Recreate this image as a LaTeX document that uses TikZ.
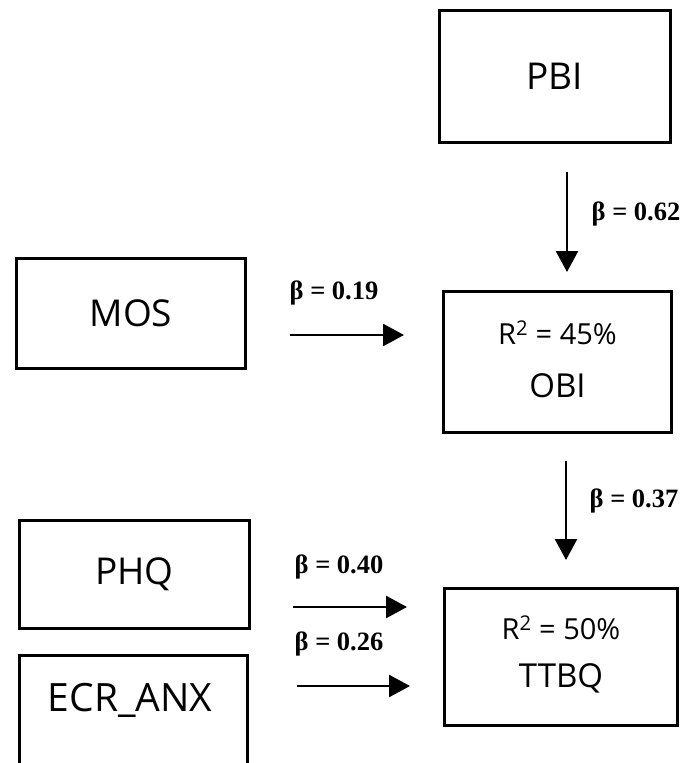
\documentclass[tikz,border=0pt]{standalone}
\usepackage{fontspec}
\setmainfont{Open Sans}
\newfontfamily\lblfont{Liberation Serif}
\usetikzlibrary{arrows.meta}
\begin{document}
\begin{tikzpicture}[x=1pt,y=-1pt,
  box/.style={draw,line width=3pt,rectangle,inner sep=0pt,align=center},
  big/.style={font=\fontsize{37}{40}\selectfont},
  arr/.style={line width=2.6pt,-{Triangle[length=21pt,width=22pt]}},
  beta/.style={font=\lblfont\bfseries\fontsize{26.5}{28}\selectfont,inner sep=0pt}]
\path[use as bounding box] (0,0) rectangle (690,763);
\clip (0,0) rectangle (690,763);
\node[box,big,minimum width=231pt,minimum height=132pt] (PBI) at (555,76.5) {PBI};
\node[box,big,minimum width=229pt,minimum height=110pt] (MOS) at (131,313.5) {MOS};
\node[box,minimum width=228pt,minimum height=141pt] (OBI) at (557.5,362) {};
\node[font=\fontsize{29}{31}\selectfont] (OBIr) at (557.5,333) {R\textsuperscript{2} = 45\%};
\node[font=\fontsize{33}{35}\selectfont] (OBIt) at (557.5,386) {OBI};
\node[box,big,minimum width=230pt,minimum height=108pt] (PHQ) at (134.5,574.5) {PHQ};
\node[box,minimum width=228pt,minimum height=109pt] (ECR) at (133.5,710) {};
\node[font=\fontsize{39}{41}\selectfont] (ECRt) at (130,700) {ECR\_ANX};
\node[box,minimum width=233pt,minimum height=137pt] (TTBQ) at (561,657) {};
\node[font=\fontsize{29}{31}\selectfont] (TTBQr) at (561,628) {R\textsuperscript{2} = 50\%};
\node[font=\fontsize{33}{35}\selectfont] (TTBQt) at (561,678) {TTBQ};
% arrow end points
\coordinate (a1s) at (567,172); \coordinate (a1e) at (567,272);
\coordinate (a2s) at (566,461); \coordinate (a2e) at (566,560);
\coordinate (a3s) at (290,335); \coordinate (a3e) at (404,335);
\coordinate (a4s) at (293,607); \coordinate (a4e) at (407,607);
\coordinate (a5s) at (297,686); \coordinate (a5e) at (410,686);
\draw[arr] (a1s) -- (a1e);
\draw[arr] (a2s) -- (a2e);
\draw[arr] (a3s) -- (a3e);
\draw[arr] (a4s) -- (a4e);
\draw[arr] (a5s) -- (a5e);
\node[beta] (b1) at (636,214) {β = 0.62};
\node[beta] (b2) at (634,501) {β = 0.37};
\node[beta] (b3) at (334,293) {β = 0.19};
\node[beta] (b4) at (339,567) {β = 0.40};
\node[beta] (b5) at (339,644) {β = 0.26};
\end{tikzpicture}
\end{document}
